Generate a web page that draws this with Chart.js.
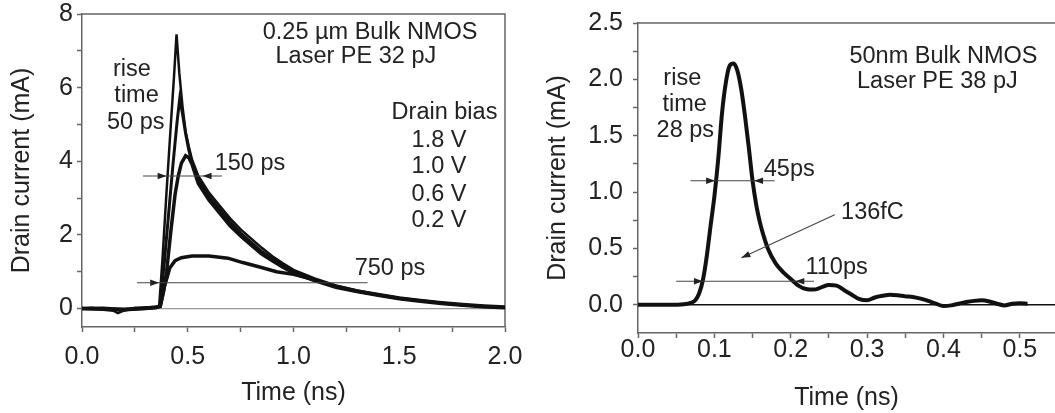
<!DOCTYPE html>
<html><head><meta charset="utf-8">
<script src="https://cdn.jsdelivr.net/npm/chart.js@4.4.0/dist/chart.umd.min.js"></script>
<style>
html,body{margin:0;padding:0;background:#fff;overflow:hidden;width:1055px;height:413px}
#l{position:absolute;left:0;top:0}
#r{position:absolute;left:530px;top:0}
</style>
</head><body>
<canvas id="l" width="530" height="413"></canvas>
<canvas id="r" width="525" height="413"></canvas>
<script>
// ---------- Left chart data (0.25 um Bulk NMOS) ----------
const leftTicksX = [0.0, 0.5, 1.0, 1.5, 2.0];
const leftTicksY = [0, 2, 4, 6, 8];

const t18 = [0,0.05,0.1,0.15,0.17,0.2,0.25,0.3,0.35,0.365,0.38,0.40,0.42,0.435,0.447,0.46,0.475,0.49,0.505,0.52,0.55,0.6,0.65,0.7,0.75,0.8,0.85,0.9,0.95,1.0,1.1,1.2,1.3,1.4,1.5,1.6,1.7,1.8,1.9,2.0];
const i18 = [0,0.02,-0.03,-0.06,-0.12,-0.05,0.02,0.03,0.05,0.08,1.3,3.2,5.0,6.3,7.45,6.4,5.5,4.8,4.4,4.05,3.6,3.15,2.8,2.45,2.15,1.9,1.65,1.42,1.23,1.05,0.82,0.63,0.49,0.38,0.29,0.21,0.15,0.1,0.06,0.03];

const t10 = [0,0.1,0.2,0.3,0.35,0.368,0.39,0.41,0.43,0.45,0.462,0.475,0.49,0.505,0.52,0.55,0.6,0.65,0.7,0.75,0.8,0.85,0.9,0.95,1.0,1.1,1.2,1.3,1.4,1.5,1.6,1.7,1.8,1.9,2.0];
const i10 = [0,-0.02,-0.04,0.02,0.04,0.06,1.3,2.6,3.9,5.1,5.7,5.3,4.75,4.3,3.98,3.5,3.05,2.7,2.35,2.05,1.8,1.55,1.35,1.17,1.0,0.78,0.6,0.47,0.37,0.28,0.21,0.15,0.1,0.06,0.03];

const t06 = [0,0.1,0.2,0.3,0.35,0.37,0.385,0.40,0.42,0.44,0.455,0.47,0.49,0.505,0.52,0.55,0.6,0.65,0.7,0.75,0.8,0.85,0.9,0.95,1.0,1.1,1.2,1.3,1.4,1.5,1.6,1.7,1.8,1.9,2.0];
const i06 = [0,0.01,-0.03,0.0,0.03,0.06,0.45,1.0,2.1,3.1,3.6,3.95,4.15,4.1,3.92,3.4,2.95,2.6,2.25,1.97,1.72,1.48,1.3,1.12,0.97,0.76,0.58,0.46,0.36,0.27,0.2,0.14,0.09,0.05,0.02];

const t02 = [0,0.1,0.2,0.3,0.35,0.37,0.39,0.415,0.44,0.47,0.52,0.6,0.69,0.76,0.84,0.92,1.0,1.1,1.2,1.3,1.4,1.5,1.6,1.7,1.8,1.9,2.0];
const i02 = [0,-0.01,-0.02,0.01,0.03,0.06,0.6,1.1,1.3,1.38,1.43,1.43,1.37,1.25,1.13,1.0,0.93,0.78,0.61,0.48,0.38,0.29,0.22,0.16,0.11,0.07,0.04];

// ---------- Right chart data (50nm Bulk NMOS) ----------
const rightTicksX = [0.0, 0.1, 0.2, 0.3, 0.4, 0.5];
const rightTicksY = [0.0, 0.5, 1.0, 1.5, 2.0, 2.5];
const tR = [0,0.02,0.04,0.06,0.07,0.075,0.08,0.085,0.09,0.095,0.1,0.105,0.11,0.115,0.12,0.125,0.13,0.135,0.14,0.145,0.15,0.155,0.16,0.165,0.17,0.18,0.19,0.2,0.21,0.22,0.23,0.24,0.25,0.26,0.27,0.28,0.29,0.30,0.31,0.32,0.33,0.34,0.35,0.36,0.37,0.38,0.39,0.40,0.41,0.42,0.43,0.44,0.45,0.46,0.47,0.48,0.49,0.50,0.51];
const iR = [0,0,0,0.005,0.02,0.04,0.1,0.22,0.43,0.7,0.96,1.29,1.7,1.97,2.12,2.14,2.08,1.92,1.68,1.4,1.1,0.88,0.72,0.6,0.5,0.37,0.29,0.23,0.17,0.14,0.135,0.155,0.175,0.17,0.13,0.09,0.05,0.04,0.065,0.08,0.09,0.085,0.075,0.07,0.055,0.035,0.01,-0.01,-0.005,0.01,0.025,0.035,0.04,0.03,0.01,-0.005,0.01,0.015,0.01];

// ---------- Annotations (data coordinates) ----------
const leftTexts = [
  ['0.25 \u00b5m Bulk NMOS', 1.362, 7.49],
  ['Laser PE 32 pJ', 1.295, 6.84],
  ['rise', 0.236, 6.49],
  ['time', 0.258, 5.79],
  ['50 ps', 0.254, 5.04],
  ['Drain bias', 1.714, 5.33],
  ['1.8 V', 1.688, 4.57],
  ['1.0 V', 1.688, 3.85],
  ['0.6 V', 1.688, 3.11],
  ['0.2 V', 1.688, 2.38],
  ['150 ps', 0.794, 3.93],
  ['750 ps', 1.456, 1.09]
];
const leftArrows = [
  {y: 3.6, x1: 0.288, x2: 0.662, heads: [[0.40, 1], [0.57, -1]]},
  {y: 0.70, x1: 0.26, x2: 1.35, heads: [[0.365, 1]]}
];
const rightTexts = [
  ['50nm Bulk NMOS', 0.400, 2.204],
  ['Laser PE 38 pJ', 0.392, 1.98],
  ['rise', 0.058, 2.01],
  ['time', 0.061, 1.777],
  ['28 ps', 0.062, 1.545],
  ['45ps', 0.198, 1.204],
  ['136fC', 0.307, 0.823],
  ['110ps', 0.26, 0.331]
];
const rightArrows = [
  {y: 1.10, x1: 0.0687, x2: 0.179, heads: [[0.101, 1], [0.152, -1]]},
  {y: 0.209, x1: 0.050, x2: 0.2304, heads: [[0.085, 1], [0.206, -1]]}
];
const rightPointers = [{x1: 0.2576, y1: 0.80, x2: 0.1354, y2: 0.417}];

// ---------- helpers ----------
const FONT = '"Liberation Sans", Arial, sans-serif';
const TXT = '#222';
const AX = '#666';
const pts = (xs, ys) => xs.map((x, i) => ({x, y: ys[i]}));

function head(ctx, x, y, dx, dy) {
  const L = 9, W = 3.2;
  const len = Math.hypot(dx, dy), ux = dx / len, uy = dy / len;
  ctx.beginPath();
  ctx.moveTo(x, y);
  ctx.lineTo(x - ux * L - uy * W, y - uy * L + ux * W);
  ctx.lineTo(x - ux * L + uy * W, y - uy * L - ux * W);
  ctx.closePath();
  ctx.fill();
}

const annotPlugin = {
  id: 'annot',
  beforeDatasetsDraw(chart, args, o) {
    const {ctx, chartArea: a, scales: {x, y}} = chart;
    ctx.save();
    const y0 = y.getPixelForValue(0);
    ctx.strokeStyle = o.zeroColor; ctx.lineWidth = o.zeroWidth;
    ctx.beginPath(); ctx.moveTo(a.left, y0); ctx.lineTo(a.right, y0); ctx.stroke();
    ctx.strokeStyle = AX; ctx.lineWidth = 1.5;
    ctx.beginPath(); ctx.moveTo(a.left, a.top); ctx.lineTo(a.right, a.top);
    if (o.rightBorder) ctx.lineTo(a.right, a.bottom);
    ctx.stroke();
    ctx.restore();
  },
  afterDatasetsDraw(chart, args, o) {
    const {ctx, scales: {x, y}} = chart;
    ctx.save();
    ctx.strokeStyle = '#444'; ctx.fillStyle = '#222'; ctx.lineWidth = 1.1;
    (o.arrows || []).forEach(ar => {
      const py = y.getPixelForValue(ar.y);
      ctx.beginPath();
      ctx.moveTo(x.getPixelForValue(ar.x1), py);
      ctx.lineTo(x.getPixelForValue(ar.x2), py);
      ctx.stroke();
      ar.heads.forEach(([hx, d]) => head(ctx, x.getPixelForValue(hx), py, d, 0));
    });
    (o.pointers || []).forEach(p => {
      const x1 = x.getPixelForValue(p.x1), y1 = y.getPixelForValue(p.y1);
      const x2 = x.getPixelForValue(p.x2), y2 = y.getPixelForValue(p.y2);
      ctx.beginPath(); ctx.moveTo(x1, y1); ctx.lineTo(x2, y2); ctx.stroke();
      head(ctx, x2, y2, x2 - x1, y2 - y1);
    });
    ctx.fillStyle = TXT;
    ctx.font = '23.5px ' + FONT;
    ctx.textAlign = 'center'; ctx.textBaseline = 'middle';
    (o.texts || []).forEach(([t, tx, ty]) => ctx.fillText(t, x.getPixelForValue(tx), y.getPixelForValue(ty)));
    ctx.restore();
  }
};

function axisX(opts) {
  return {
    type: 'linear', min: opts.min, max: opts.max,
    ticks: {
      stepSize: opts.step, autoSkip: false, maxRotation: 0, minRotation: 0, includeBounds: false,
      padding: opts.pad, color: TXT, font: {family: FONT, size: 25, lineHeight: opts.lh},
      callback: v => opts.labels.some(l => Math.abs(l - v) < 1e-6) ? v.toFixed(1) : ''
    },
    grid: {drawOnChartArea: false, drawTicks: true, tickLength: 5, tickWidth: 1.5, tickColor: AX},
    border: {display: true, color: AX, width: 1.5},
    title: {display: true, text: 'Time (ns)', color: TXT, font: {family: FONT, size: 25, lineHeight: 1.2}, padding: {top: 0, bottom: opts.titlePad}},
    afterFit: s => { s.height = opts.height; }
  };
}
function axisY(opts) {
  return {
    type: 'linear', min: opts.min, max: opts.max,
    ticks: {
      stepSize: opts.step, autoSkip: false, includeBounds: false,
      padding: opts.pad, color: TXT, font: {family: FONT, size: 25, lineHeight: 0.8},
      callback: v => opts.labels.some(l => Math.abs(l - v) < 1e-6) ? v.toFixed(opts.dec) : ''
    },
    grid: {drawOnChartArea: false, drawTicks: true, tickLength: 5, tickWidth: 1.5,
      tickColor: c => (c.tick && c.tick.value < 0) ? 'rgba(0,0,0,0)' : AX},
    border: {display: true, color: AX, width: 1.5},
    title: {display: true, text: 'Drain current (mA)', color: TXT, font: {family: FONT, size: 25, lineHeight: 1.2}, padding: {top: opts.titlePad, bottom: 0}},
    afterFit: s => { s.width = opts.width; }
  };
}

const lineDs = (data, w, extra) => Object.assign({data, borderColor: '#111', borderWidth: w, pointRadius: 0, fill: false, tension: 0}, extra || {});

new Chart(document.getElementById('l'), {
  type: 'line',
  data: {datasets: [
    lineDs(pts(t02, i02), 3.5),
    lineDs(pts(t06, i06), 3.5),
    lineDs(pts(t10, i10), 3),
    lineDs(pts(t18, i18), 2.5)
  ]},
  options: {
    responsive: false, animation: false,
    layout: {padding: {top: 13, right: 25, left: 0, bottom: 0}},
    plugins: {legend: {display: false}, tooltip: {enabled: false},
      annot: {zeroColor: '#999', zeroWidth: 1.2, rightBorder: true, texts: leftTexts, arrows: leftArrows}},
    scales: {
      x: axisX({min: 0, max: 2, step: 0.25, labels: leftTicksX, pad: 6, lh: 1.52, height: 86, titlePad: 5}),
      y: axisY({min: -0.5, max: 8, step: 1, labels: leftTicksY, dec: 0, pad: 4, width: 82, titlePad: 7})
    }
  },
  plugins: [annotPlugin]
});

new Chart(document.getElementById('r'), {
  type: 'line',
  data: {datasets: [
    lineDs(pts(tR, iR), 4, {cubicInterpolationMode: 'monotone'})
  ]},
  options: {
    responsive: false, animation: false,
    layout: {padding: {top: 23, right: 0, left: 0, bottom: 0}},
    plugins: {legend: {display: false}, tooltip: {enabled: false},
      annot: {zeroColor: '#111', zeroWidth: 1.5, rightBorder: false, texts: rightTexts, arrows: rightArrows, pointers: rightPointers}},
    scales: {
      x: axisX({min: 0, max: 0.546, step: 0.05, labels: rightTicksX, pad: -3, lh: 1.2, height: 80, titlePad: 0}),
      y: axisY({min: -0.25, max: 2.5, step: 0.25, labels: rightTicksY, dec: 1, pad: 10, width: 108, titlePad: 13})
    }
  },
  plugins: [annotPlugin]
});
</script>
</body></html>
